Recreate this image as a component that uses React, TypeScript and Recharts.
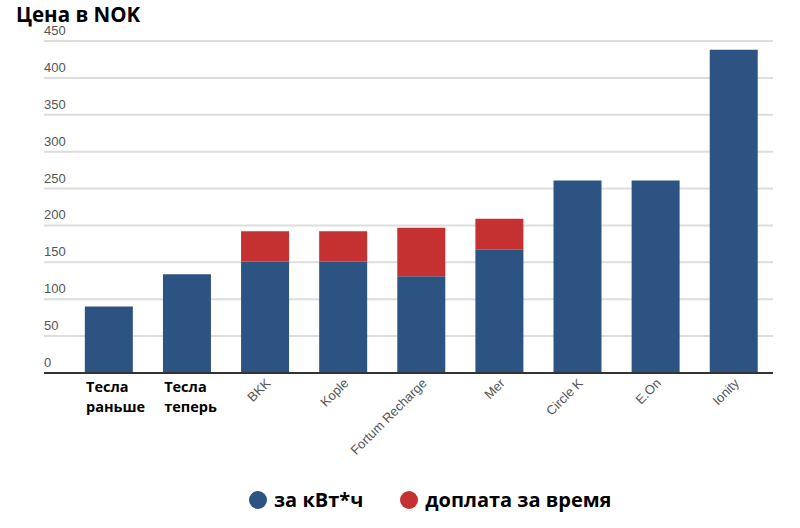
import React from "react";
import { BarChart, Bar, XAxis, YAxis, CartesianGrid } from "recharts";

const categories = ["Тесла раньше", "Тесла теперь", "BKK", "Kople", "Fortum Recharge", "Mer", "Circle K", "E.On", "Ionity"];
const perKwh = [90, 134, 151, 151, 131, 167, 261, 261, 438];
const timeFee = [0, 0, 41, 41, 66, 42, 0, 0, 0];
const yTicks = [0, 50, 100, 150, 200, 250, 300, 350, 400, 450];
const seriesNames = ["за кВт*ч", "доплата за время"];
const colors = ["#2D5383", "#C53131"];

const data = categories.map((c, i) => ({ name: c, kwh: perKwh[i], fee: timeFee[i] }));

const YTick = (props: any) => {
  const { y, payload } = props;
  return (
    <text x={44} y={y - 6} fill="#555" fontSize={13} fontFamily="Liberation Sans, Arial, sans-serif" textAnchor="start">
      {payload.value}
    </text>
  );
};

const XTick = (props: any) => {
  const { x, y, payload } = props;
  const v: string = payload.value;
  if (v.startsWith("Тесла")) {
    const parts = v.split(" ");
    return (
      <g>
        <text x={x - 23} y={y + 11} fill="#000" fontSize={14.5} fontWeight={700} fontFamily="Open Sans, sans-serif" textAnchor="start">
          <tspan x={x - 23} dy={0}>{parts[0]}</tspan>
          <tspan x={x - 23} dy={20}>{parts[1]}</tspan>
        </text>
      </g>
    );
  }
  return (
    <text
      x={x + 6}
      y={y + 3}
      fill="#555"
      fontSize={13}
      fontFamily="Liberation Sans, Arial, sans-serif"
      textAnchor="end"
      transform={`rotate(-45 ${x + 6} ${y + 3})`}
    >
      {v}
    </text>
  );
};

const LegendContent = () => (
  <div style={{ position: "absolute", left: 249, top: 486, display: "flex", alignItems: "center", fontFamily: "Open Sans, sans-serif", fontWeight: 700, fontSize: 20, color: "#000", whiteSpace: "nowrap" }}>
    {seriesNames.map((n, i) => (
      <div key={n} style={{ display: "flex", alignItems: "center", marginLeft: i === 0 ? 0 : 37 }}>
        <svg width={18} height={18} style={{ marginRight: 7 }}>
          <circle cx={9} cy={9} r={9} fill={colors[i]} />
        </svg>
        <span>{n}</span>
      </div>
    ))}
  </div>
);

export default function App() {
  return (
    <div style={{ position: "absolute", left: 0, top: 0, width: 800, height: 528, background: "#fff" }}>
      <div style={{ position: "absolute", left: 16, top: 0, fontFamily: "Open Sans, sans-serif", fontWeight: 700, fontSize: 20.5, color: "#000" }}>
        Цена в NOK
      </div>
      <BarChart width={800} height={528} data={data} margin={{ top: 41, right: 27, bottom: 125, left: 43 }} barCategoryGap="19%">
        <CartesianGrid vertical={false} stroke="#ddd" strokeWidth={2} />
        <XAxis
          dataKey="name"
          interval={0}
          padding={{ left: 26, right: 0 }}
          axisLine={{ stroke: "#333", strokeWidth: 2 }}
          tickLine={false}
          tick={<XTick />}
          height={30}
        />
        <YAxis
          width={1}
          domain={[0, 450]}
          ticks={yTicks}
          interval={0}
          axisLine={false}
          tickLine={false}
          tick={<YTick />}
        />
        <Bar dataKey="kwh" name={seriesNames[0]} stackId="a" fill={colors[0]} isAnimationActive={false} />
        <Bar dataKey="fee" name={seriesNames[1]} stackId="a" fill={colors[1]} isAnimationActive={false} />
      </BarChart>
      <LegendContent />
    </div>
  );
}
